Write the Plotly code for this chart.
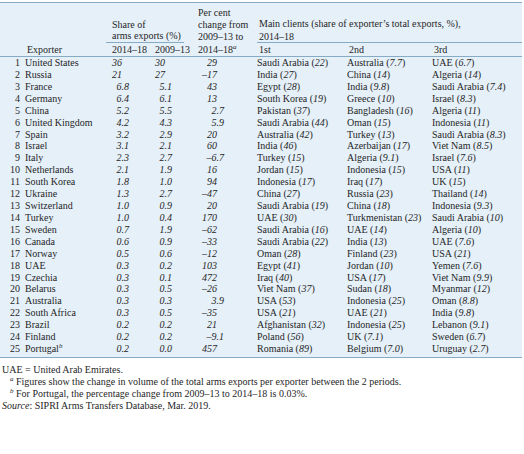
import plotly.graph_objects as go

# ---------------- data ----------------
exporters = ["United States", "Russia", "France", "Germany", "China", "United Kingdom",
             "Spain", "Israel", "Italy", "Netherlands", "South Korea", "Ukraine",
             "Switzerland", "Turkey", "Sweden", "Canada", "Norway", "UAE", "Czechia",
             "Belarus", "Australia", "South Africa", "Brazil", "Finland", "Portugal<sup><i>b</i></sup>"]
share_2014_18 = [36, 21, 6.8, 6.4, 5.2, 4.2, 3.2, 3.1, 2.3, 2.1, 1.8, 1.3, 1.0, 1.0,
                 0.7, 0.6, 0.5, 0.3, 0.3, 0.3, 0.3, 0.3, 0.2, 0.2, 0.2]
share_2009_13 = [30, 27, 5.1, 6.1, 5.5, 4.3, 2.9, 2.1, 2.7, 1.9, 1.0, 2.7, 0.9, 0.4,
                 1.9, 0.9, 0.6, 0.2, 0.1, 0.5, 0.3, 0.5, 0.2, 0.2, 0.0]
pct_change = [29, -17, 43, 13, 2.7, 5.9, 20, 60, -6.7, 16, 94, -47, 20, 170,
              -62, -33, -12, 103, 472, -26, 3.9, -35, 21, -9.1, 457]
client1 = ["Saudi Arabia", "India", "Egypt", "South Korea", "Pakistan", "Saudi Arabia",
           "Australia", "India", "Turkey", "Jordan", "Indonesia", "China", "Saudi Arabia",
           "UAE", "Saudi Arabia", "Saudi Arabia", "Oman", "Egypt", "Iraq", "Viet Nam",
           "USA", "USA", "Afghanistan", "Poland", "Romania"]
client1_share = [22, 27, 28, 19, 37, 44, 42, 46, 15, 15, 17, 27, 19, 30, 16, 22, 28, 41,
                 40, 37, 53, 21, 32, 56, 89]
client2 = ["Australia", "China", "India", "Greece", "Bangladesh", "Oman", "Turkey",
           "Azerbaijan", "Algeria", "Indonesia", "Iraq", "Russia", "China", "Turkmenistan",
           "UAE", "India", "Finland", "Jordan", "USA", "Sudan", "Indonesia", "UAE",
           "Indonesia", "UK", "Belgium"]
client2_share = [7.7, 14, 9.8, 10, 16, 15, 13, 17, 9.1, 15, 17, 23, 18, 23, 14, 13, 23, 10,
                 17, 18, 25, 21, 25, 7.1, 7.0]
client3 = ["UAE", "Algeria", "Saudi Arabia", "Israel", "Algeria", "Indonesia",
           "Saudi Arabia", "Viet Nam", "Israel", "USA", "UK", "Thailand", "Indonesia",
           "Saudi Arabia", "Algeria", "UAE", "USA", "Yemen", "Viet Nam", "Myanmar", "Oman",
           "India", "Lebanon", "Sweden", "Uruguay"]
client3_share = [6.7, 14, 7.4, 8.3, 11, 11, 8.3, 8.5, 7.6, 11, 15, 14, 9.3, 10, 10, 7.6, 21,
                 7.6, 9.9, 12, 8.8, 9.8, 9.1, 6.7, 2.7]

footnotes = [
    "UAE = United Arab Emirates.",
    "<sup><i>a</i></sup> Figures show the change in volume of the total arms exports per exporter between the 2 periods.",
    "<sup><i>b</i></sup> For Portugal, the percentage change from 2009\u201313 to 2014\u201318 is 0.03%.",
    "<i>Source</i>: SIPRI Arms Transfers Database, Mar. 2019.",
]

# ---------------- style / layout constants ----------------
W, H = 524, 454
FONT = "Liberation Serif"
FS = 10
TXT = "#262626"
BG = "#e5f0f9"
RULE = "#86abc6"
ROW0, STEP = 63.5, 11.92
X_NUM, X_NAME = 20, 25
X_C1, X_C2, X_C3 = 122, 165, 217
DEC_OFF = 7
X_1ST, X_2ND, X_3RD = 257, 347, 432
RIGHT = 522


def fmt(v):
    s = f"{v:.0f}" if abs(v) >= 10 else f"{v:.1f}"
    return s.replace("-", "\u2013")


n = len(exporters)
ys = [ROW0 + i * STEP for i in range(n)]

fig = go.Figure()


def text_trace(xs, yv, texts, pos):
    fig.add_trace(go.Scatter(x=xs, y=yv, text=texts, mode="text", textposition=pos,
                             textfont=dict(family=FONT, size=FS, color=TXT),
                             hoverinfo="skip", showlegend=False, cliponaxis=False))


# row numbers and names
text_trace([X_NUM] * n, ys, [str(i + 1) for i in range(n)], "middle left")
text_trace([X_NAME] * n, ys, exporters, "middle right")

# numeric columns (decimal aligned)
for xc, vals in [(X_C1, share_2014_18), (X_C2, share_2009_13), (X_C3, pct_change)]:
    xs = [xc + (DEC_OFF if abs(v) < 10 else 0) for v in vals]
    text_trace(xs, ys, [f"<i>{fmt(v)}</i>" for v in vals], "middle left")

# clients
for xc, names, shares in [(X_1ST, client1, client1_share), (X_2ND, client2, client2_share),
                          (X_3RD, client3, client3_share)]:
    text_trace([xc] * n, ys, [f"{nm} (<i>{fmt(s)}</i>)" for nm, s in zip(names, shares)],
               "middle right")

# headers
headers = [
    ("Exporter", X_NAME, 49),
    ("Share of", 110, 24), ("arms exports (%)", 110, 36),
    ("2014\u201318", 110, 49), ("2009\u201313", 153, 49),
    ("Per cent", 196, 12), ("change from", 196, 24), ("2009\u201313 to", 196, 36.5),
    ("2014\u201318<sup><i>a</i></sup>", 196, 49),
    ("Main clients (share of exporter\u2019s total exports, %),", X_1ST, 24),
    ("2014\u201318", X_1ST, 36),
    ("1st", X_1ST, 49), ("2nd", X_2ND, 49), ("3rd", X_3RD, 49),
]
annotations = [dict(text=t, x=x, y=y, xref="x", yref="y", showarrow=False,
                    xanchor="left", yanchor="middle",
                    font=dict(family=FONT, size=FS, color=TXT)) for t, x, y in headers]

foot_pos = [(0, 369), (8, 381), (8, 392.5), (0, 405)]
for t, (x, y) in zip(footnotes, foot_pos):
    annotations.append(dict(text=t, x=x, y=y, xref="x", yref="y", showarrow=False,
                            xanchor="left", yanchor="middle",
                            font=dict(family=FONT, size=FS, color=TXT)))

shapes = [
    dict(type="rect", x0=0, x1=RIGHT, y0=2, y1=357.5, xref="x", yref="y",
         fillcolor=BG, line=dict(width=0), layer="below"),
    dict(type="line", x0=0, x1=RIGHT, y0=2.5, y1=2.5, xref="x", yref="y",
         line=dict(color=RULE, width=1)),
    dict(type="line", x0=106, x1=184, y0=42.5, y1=42.5, xref="x", yref="y",
         line=dict(color=RULE, width=1)),
    dict(type="line", x0=X_1ST, x1=RIGHT, y0=42.5, y1=42.5, xref="x", yref="y",
         line=dict(color=RULE, width=1)),
    dict(type="line", x0=0, x1=RIGHT, y0=56.5, y1=56.5, xref="x", yref="y",
         line=dict(color=RULE, width=1)),
    dict(type="line", x0=0, x1=RIGHT, y0=357.5, y1=357.5, xref="x", yref="y",
         line=dict(color=RULE, width=1)),
]

fig.update_layout(
    width=W, height=H, margin=dict(l=0, r=0, t=0, b=0),
    paper_bgcolor="white", plot_bgcolor="white",
    xaxis=dict(range=[0, W], visible=False, fixedrange=True),
    yaxis=dict(range=[H, 0], visible=False, fixedrange=True),
    annotations=annotations, shapes=shapes, showlegend=False,
)

fig.write_html("out.html", config={"displayModeBar": False},
               post_script="document.body.style.margin='0';document.body.style.overflow='hidden';")
